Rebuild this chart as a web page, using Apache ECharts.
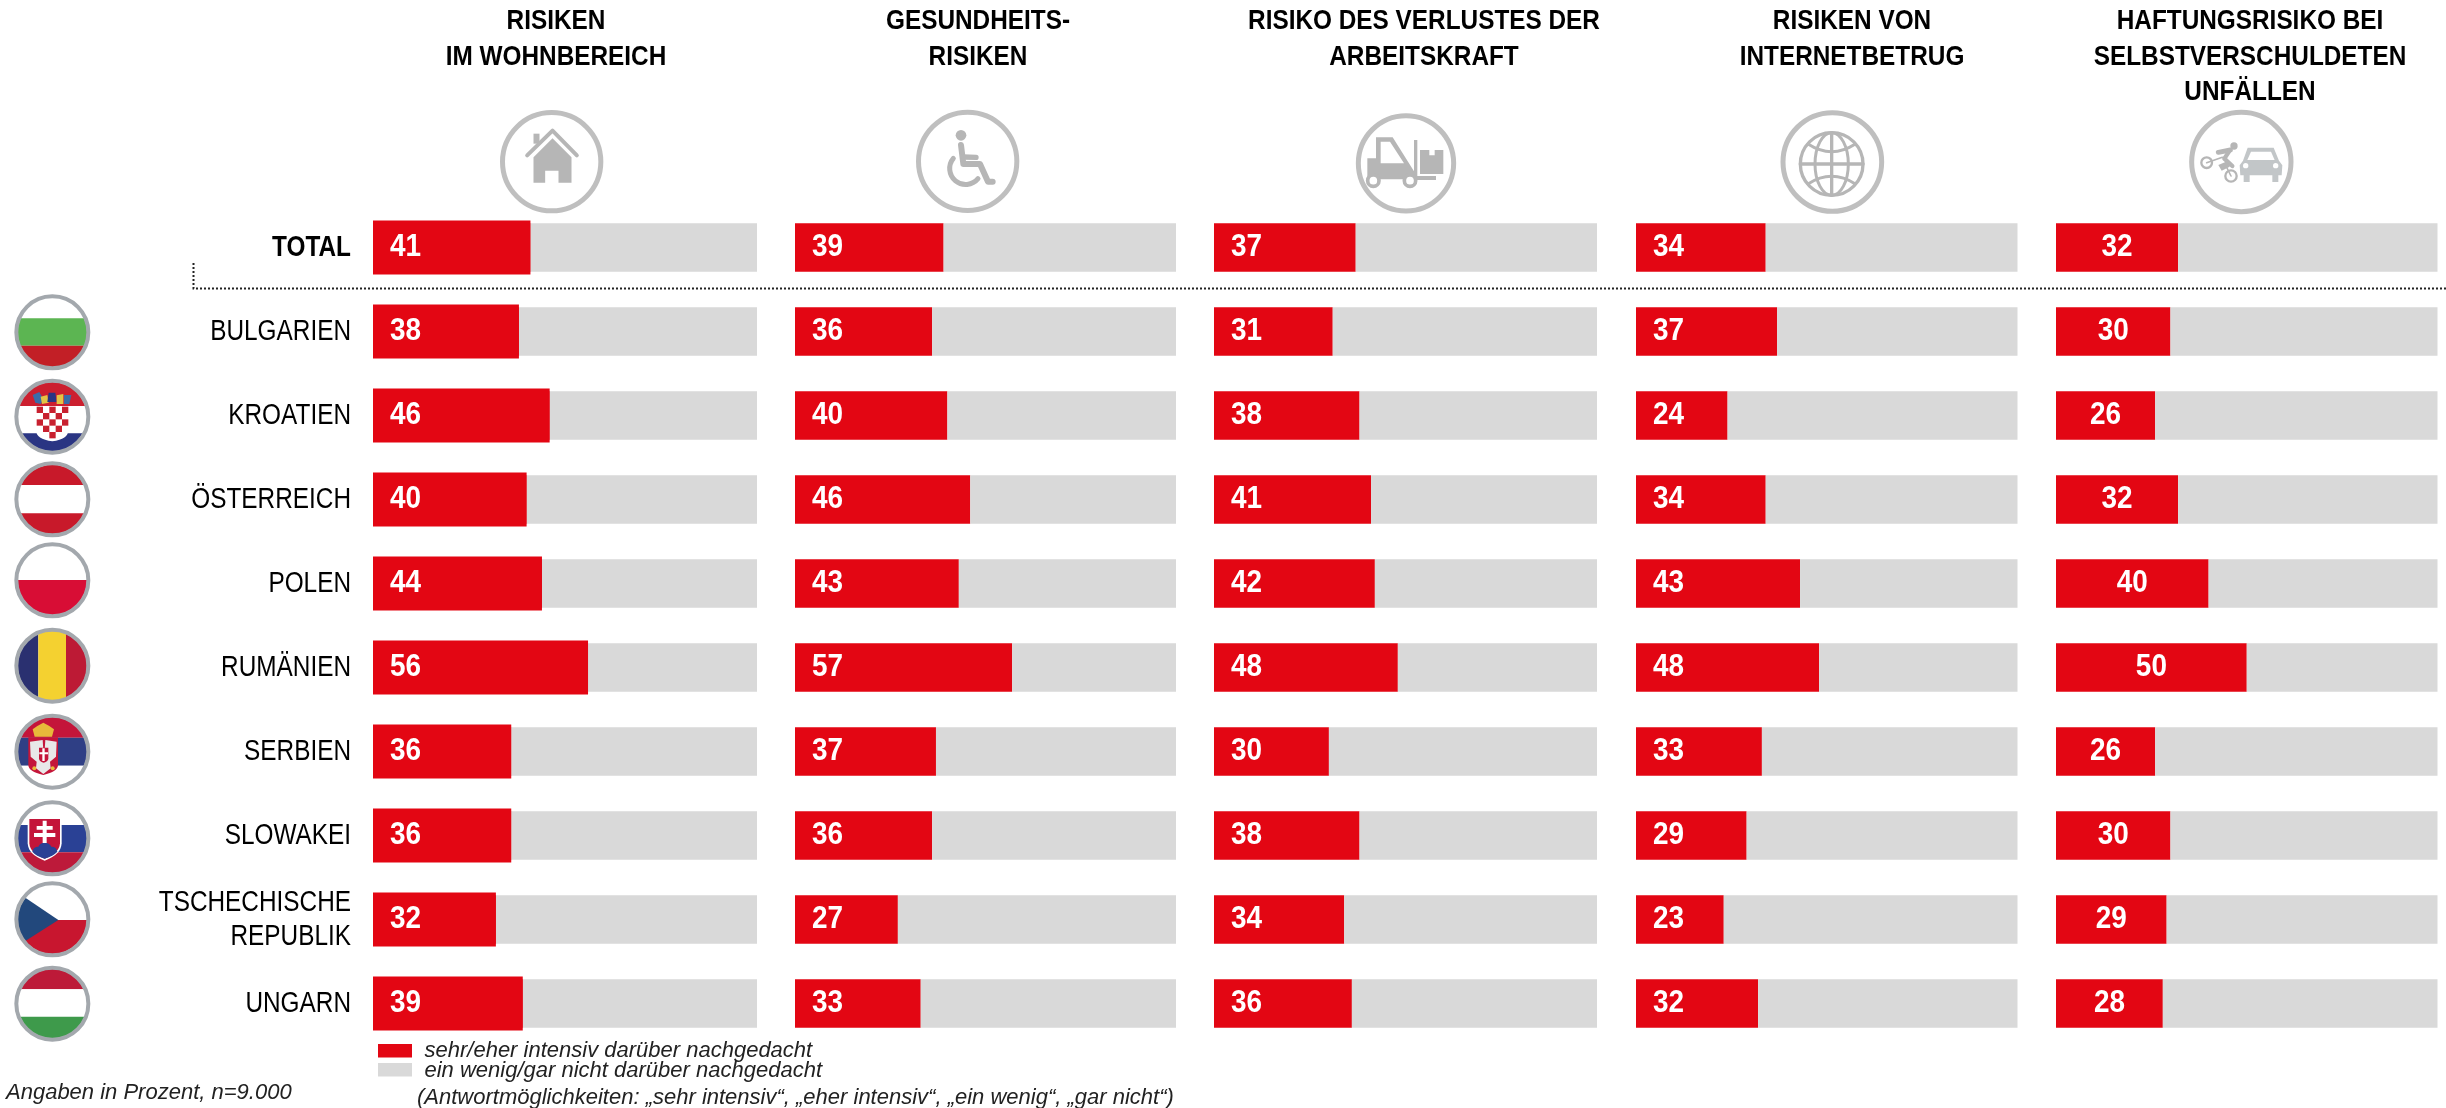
<!DOCTYPE html>
<html>
<head>
<meta charset="utf-8">
<title>Risiken</title>
<style>
  html, body { margin: 0; padding: 0; background: #fff; }
  #chart { width: 2446px; height: 1108px; }
</style>
<script src="https://cdn.jsdelivr.net/npm/echarts@6/dist/echarts.min.js"></script>
</head>
<body>
<div id="chart"></div>
<script>
const countries = ['TOTAL', 'BULGARIEN', 'KROATIEN', 'ÖSTERREICH', 'POLEN', 'RUMÄNIEN', 'SERBIEN', 'SLOWAKEI', 'TSCHECHISCHE\nREPUBLIK', 'UNGARN']

const headers = [
  'RISIKEN\nIM WOHNBEREICH',
  'GESUNDHEITS-\nRISIKEN',
  'RISIKO DES VERLUSTES DER\nARBEITSKRAFT',
  'RISIKEN VON\nINTERNETBETRUG',
  'HAFTUNGSRISIKO BEI\nSELBSTVERSCHULDETEN\nUNFÄLLEN'
]

// sehr/eher intensiv
const wohnbereich = [41, 38, 46, 40, 44, 56, 36, 36, 32, 39]
const gesundheit = [39, 36, 40, 46, 43, 57, 37, 36, 27, 33]
const arbeitskraft = [37, 31, 38, 41, 42, 48, 30, 38, 34, 36]
const internet = [34, 37, 24, 34, 43, 48, 33, 29, 23, 32]
const haftung = [32, 30, 26, 32, 40, 50, 26, 30, 29, 28]

// ein wenig/gar nicht
const wohnbereichRest = [59, 62, 54, 60, 56, 44, 64, 64, 68, 61]
const gesundheitRest = [61, 64, 60, 54, 57, 43, 63, 64, 73, 67]
const arbeitskraftRest = [63, 69, 62, 59, 58, 52, 70, 62, 66, 64]
const internetRest = [66, 63, 76, 66, 57, 52, 67, 71, 77, 68]
const haftungRest = [68, 70, 74, 68, 60, 50, 74, 70, 71, 72]

const legendHigh = 'sehr/eher intensiv darüber nachgedacht'
const legendLow = 'ein wenig/gar nicht darüber nachgedacht'
const noteLeft = 'Angaben in Prozent, n=9.000'
const noteRight = '(Antwortmöglichkeiten: „sehr intensiv“, „eher intensiv“, „ein wenig“, „gar nicht“)'

const RED = '#e30613'
const GREY = '#d9d9d9'
// no narrow font is installed, the squeezed look comes from scaleX on the text
const SANS = '"Liberation Sans", Arial, sans-serif'

const highValues = [wohnbereich, gesundheit, arbeitskraft, internet, haftung]
const lowValues = [wohnbereichRest, gesundheitRest, arbeitskraftRest, internetRest, haftungRest]

// column layout
const colLeft = [373, 795, 1214, 1636, 2056]
const colWidth = [384, 381, 383, 381.5, 381.5]
const headerX = [556, 978, 1424, 1852, 2250]

const grid = []
const xAxis = []
const yAxis = []
const series = []

function hiddenCategory(gridIndex) {
  return { gridIndex, type: 'category', inverse: true, data: countries, show: false }
}

colLeft.forEach((left, i) => {
  grid.push({ left: left, width: colWidth[i], top: 205.5, height: 840, containLabel: false })
  xAxis.push({ gridIndex: i, type: 'value', min: 0, max: 100, show: false })
  yAxis.push(hiddenCategory(i))
  series.push({
    name: legendHigh,
    type: 'bar',
    stack: 'col' + i,
    xAxisIndex: i,
    yAxisIndex: i,
    barWidth: 48.5,
    itemStyle: { color: RED },
    data: highValues[i]
  })
  series.push({
    name: legendLow,
    type: 'bar',
    stack: 'col' + i,
    xAxisIndex: i,
    yAxisIndex: i,
    barWidth: 48.5,
    itemStyle: { color: GREY },
    data: lowValues[i]
  })
  // value labels, left in the bar, centred in the last column
  series.push({
    type: 'custom',
    xAxisIndex: i,
    yAxisIndex: i,
    z: 5,
    silent: true,
    encode: { x: 0, y: 1 },
    data: highValues[i].map((v, r) => [v, r]),
    renderItem: (params, api) => {
      const v = api.value(0)
      const centred = i === 4
      const p = api.coord([centred ? v / 2 : 0, api.value(1)])
      return {
        type: 'text',
        x: centred ? p[0] : p[0] + 17,
        y: p[1],
        scaleX: 0.9,
        style: {
          text: String(v),
          align: centred ? 'center' : 'left',
          verticalAlign: 'middle',
          fill: '#fff',
          font: 'bold 31px ' + SANS
        }
      }
    }
  })
})

// first column: the red bars stand a little taller than the grey ones
yAxis.push(hiddenCategory(0))
series.push({
  name: legendHigh,
  type: 'bar',
  xAxisIndex: 0,
  yAxisIndex: yAxis.length - 1,
  barWidth: 54,
  z: 3,
  itemStyle: { color: RED },
  data: wohnbereich
})

// country names left of the first column
series.push({
  type: 'custom',
  xAxisIndex: 0,
  yAxisIndex: 0,
  z: 5,
  silent: true,
  encode: { x: 0, y: 1 },
  data: countries.map((c, r) => [0, r]),
  renderItem: (params, api) => {
    const r = api.value(1)
    const p = api.coord([0, r])
    return {
      type: 'text',
      x: p[0] - 22,
      y: p[1],
      scaleX: 0.84,
      style: {
        text: countries[r],
        align: 'right',
        verticalAlign: 'middle',
        fill: '#000',
        lineHeight: 34,
        font: (r === 0 ? 'bold ' : '') + '29px ' + SANS
      }
    }
  }
})

// ---- icons, drawn in 3x crop coordinates and scaled down ----
const ICON = '#b6b6b6'
const RING = '#bfbfbf'

// the graphic component has no plain path type, so each path gets its own shape class
let shapeCount = 0
function pathType(d) {
  const name = 'iconPath' + shapeCount++
  echarts.graphic.registerShape(name, echarts.graphic.extendPath(d))
  return name
}

function ring(cx, cy, r) {
  return { type: 'circle', shape: { cx, cy, r }, style: { fill: 'none', stroke: RING, lineWidth: 15 } }
}
function fillPath(d, color) {
  return { type: pathType(d), style: { fill: color || ICON } }
}
function linePath(d, w, color) {
  return { type: pathType(d), style: { fill: 'none', stroke: color || ICON, lineWidth: w, lineCap: 'round', lineJoin: 'round' } }
}
function dot(cx, cy, r, color) {
  return { type: 'circle', shape: { cx, cy, r }, style: { fill: color || ICON } }
}
function hoop(cx, cy, r, w, color) {
  return { type: 'circle', shape: { cx, cy, r }, style: { fill: '#fff', stroke: color || ICON, lineWidth: w } }
}
function small(x, y, children) {
  return { type: 'group', x, y, scaleX: 1 / 3, scaleY: 1 / 3, children }
}

const icons = [
  small(486.5, 100, [
    ring(195.5, 185, 147.5),
    fillPath('M141 101 L159 101 L159 131 L141 131 Z'),
    linePath('M122 166 L198 92 L271 166', 12),
    fillPath('M198 115 L255 172 L255 248 L216 248 L216 212 L176 212 L176 248 L141 248 L141 172 Z')
  ]),
  small(900, 100, [
    ring(203, 184, 147.5),
    dot(183, 106, 16),
    linePath('M183 135 L190 192 L240 192 L264 245 L278 245', 18),
    linePath('M190 171 L228 172', 16),
    linePath('M160 175 A44 44 0 1 0 234 236', 15)
  ]),
  small(1340, 100, [
    ring(198, 190, 143),
    fillPath('M82 175 L108 175 L108 112 L158 112 L222 214 L225 238 L82 238 Z M122 125 L122 190 L192 190 L150 125 Z'),
    fillPath('M222 120 L232 120 L232 228 L288 228 L288 240 L222 240 Z'),
    fillPath('M240 150 L268 150 L268 166 L284 166 L284 150 L310 150 L310 222 L240 222 Z'),
    hoop(100, 242, 17, 11),
    hoop(210, 242, 17, 11)
  ]),
  small(1770, 100, [
    ring(187, 186, 148),
    { type: 'circle', shape: { cx: 185, cy: 192, r: 94 }, style: { fill: 'none', stroke: ICON, lineWidth: 10 } },
    { type: 'ellipse', shape: { cx: 185, cy: 192, rx: 50, ry: 94 }, style: { fill: 'none', stroke: ICON, lineWidth: 9 } },
    linePath('M185 98 L185 286 M91 192 L279 192', 10),
    linePath('M114 132 Q185 178 256 132 M114 252 Q185 206 256 252', 9)
  ]),
  small(2175, 100, [
    ring(199, 186, 149),
    hoop(95, 188, 16, 7),
    hoop(168, 228, 17, 7),
    linePath('M95 188 L142 172 M168 228 L150 192', 5),
    dot(177, 138, 11),
    linePath('M130 157 L166 150', 15),
    linePath('M162 155 L148 176 L172 198', 13),
    fillPath('M130 195 L160 182 L164 200 L140 212 Z'),
    fillPath('M218 143 L296 143 L312 182 L322 196 L320 226 L310 226 L310 246 L292 246 L292 226 L224 226 L224 246 L206 246 L206 226 L196 226 L194 196 L204 182 Z', '#c2c6c8'),
    fillPath('M228 155 L288 155 L299 180 L217 180 Z', '#fff'),
    dot(212, 197, 8, '#fff'),
    dot(302, 197, 8, '#fff')
  ])
]

// ---- flags, drawn in 3x crop coordinates ----
const FLAG_X = 157
const FLAG_R = 104

function hband(cy, y0, y1, color) {
  const a = Math.sqrt(Math.max(0, FLAG_R * FLAG_R - (y0 - cy) * (y0 - cy)))
  const b = Math.sqrt(Math.max(0, FLAG_R * FLAG_R - (y1 - cy) * (y1 - cy)))
  const r = FLAG_R
  return fillPath(`M${FLAG_X - a} ${y0} L${FLAG_X + a} ${y0} A${r} ${r} 0 0 1 ${FLAG_X + b} ${y1} L${FLAG_X - b} ${y1} A${r} ${r} 0 0 1 ${FLAG_X - a} ${y0} Z`, color)
}
function vband(cy, x0, x1, color) {
  const a = Math.sqrt(Math.max(0, FLAG_R * FLAG_R - (x0 - FLAG_X) * (x0 - FLAG_X)))
  const b = Math.sqrt(Math.max(0, FLAG_R * FLAG_R - (x1 - FLAG_X) * (x1 - FLAG_X)))
  const r = FLAG_R
  return fillPath(`M${x0} ${cy - a} A${r} ${r} 0 0 1 ${x1} ${cy - b} L${x1} ${cy + b} A${r} ${r} 0 0 1 ${x0} ${cy + a} Z`, color)
}
function flagRing(cy) {
  return { type: 'circle', shape: { cx: FLAG_X, cy, r: 108 }, style: { fill: 'none', stroke: '#a3a8ad', lineWidth: 12 } }
}
function rectPath(x, y, w, h, color) {
  return fillPath(`M${x} ${y} h${w} v${h} h${-w} Z`, color)
}
function stripes(cy, cuts, colors) {
  return colors.map((c, i) => hband(cy, cuts[i], cuts[i + 1], c))
}

// croatian shield squares
const hrSquares = []
for (let row = 0; row < 5; row++) {
  for (let c = 0; c < 5; c++) {
    if ((row + c) % 2 === 0 && (row < 4 || c === 2)) {
      hrSquares.push(rectPath(110 + c * 19, 380 + row * 19, 19, 19, '#c8202f'))
    }
  }
}

const flags = [
  small(0, 280, [
    ...stripes(157, [53, 115, 197, 261], ['#ffffff', '#5cb552', '#c21f26']),
    flagRing(157),
    ...stripes(410, [306, 378, 460, 514], ['#cc1f2f', '#ffffff', '#2a3583']),
    fillPath('M108 378 L205 378 L205 450 Q205 478 157 484 Q108 478 108 450 Z', '#fff'),
    ...hrSquares,
    fillPath('M98 345 L118 336 L130 358 L122 372 L106 368 Z', '#3a6ca8'),
    fillPath('M122 350 L142 345 L146 368 L126 372 Z', '#e4c445'),
    fillPath('M146 338 L166 338 L170 366 L142 366 Z', '#2a3583'),
    fillPath('M170 346 L190 342 L190 372 L170 372 Z', '#e4c445'),
    fillPath('M192 345 L214 345 L208 372 L192 372 Z', '#3a6ca8'),
    flagRing(410),
    ...stripes(658, [554, 615, 700, 762], ['#c8192a', '#ffffff', '#c8192a']),
    flagRing(658)
  ]),
  small(0, 530, [
    ...stripes(151, [47, 150, 255], ['#ffffff', '#d80d35']),
    flagRing(151)
  ]),
  small(0, 620, [
    vband(137, 53.5, 115, '#2a3070'),
    vband(137, 115, 198, '#f4d130'),
    vband(137, 198, 260.5, '#bd1a35'),
    flagRing(137)
  ]),
  small(0, 700, [
    // serbien
    ...stripes(155, [51, 113, 197, 259], ['#c4153a', '#2f3f85', '#ffffff']),
    fillPath('M85 112 L174 112 L174 195 Q174 215 130 225 Q85 215 85 195 Z', '#c4153a'),
    fillPath('M90 125 L128 120 L130 150 L134 150 L136 120 L170 125 L168 170 L150 185 L152 205 L130 222 L108 205 L110 185 L92 170 Z', '#e8e8e8'),
    fillPath('M117 143 L145 143 L145 175 Q145 185 131 188 Q117 185 117 175 Z', '#c4153a'),
    fillPath('M127 145 h7 v12 h10 v6 h-10 v20 h-7 v-20 h-9 v-6 h9 Z', '#fff'),
    dot(103, 205, 6, '#e8b93a'),
    dot(158, 205, 6, '#e8b93a'),
    fillPath('M98 88 L112 78 L130 68 L148 78 L162 88 L156 110 L104 110 Z', '#e8b93a'),
    flagRing(155),
    // slowakei
    ...stripes(415, [311, 375, 457, 519], ['#ffffff', '#2a4195', '#bd1a3a']),
    fillPath('M83 353 L185 353 L185 430 Q183 465 134 482 Q85 465 83 430 Z', '#fff'),
    fillPath('M88 357 L180 357 L180 430 Q178 460 134 476 Q90 460 88 430 Z', '#c4153a'),
    fillPath('M97 455 Q100 440 115 440 Q120 428 134 428 Q148 428 154 440 Q170 440 172 455 Q160 468 134 476 Q108 468 97 455 Z', '#2a4195'),
    fillPath('M128 362 h12 v16 h18 v11 h-18 v10 h26 v12 h-26 v18 h-12 v-18 h-26 v-12 h26 v-10 h-18 v-11 h18 Z', '#fff'),
    flagRing(415),
    // tschechien
    ...stripes(658, [554, 660, 762], ['#ffffff', '#c8162f']),
    fillPath('M76 593 A104 104 0 0 0 76 723 L175 660 Z', '#22487c'),
    flagRing(658),
    // ungarn
    ...stripes(911, [807, 868, 950, 1015], ['#bd1a38', '#ffffff', '#3e9a4b']),
    flagRing(911)
  ])
]

function headerText(text, i) {
  return {
    type: 'text',
    x: headerX[i],
    y: 4,
    scaleX: 0.87,
    style: {
      text,
      align: 'center',
      verticalAlign: 'top',
      fill: '#000',
      font: 'bold 28px ' + SANS,
      lineHeight: 35.5
    }
  }
}

function noteText(text, x, y) {
  return {
    type: 'text',
    x,
    y,
    style: {
      text,
      align: 'left',
      verticalAlign: 'middle',
      fill: '#222',
      font: 'italic 22px ' + SANS
    }
  }
}

const graphicElements = [
  ...headers.map(headerText),
  ...icons,
  ...flags,
  {
    type: 'polyline',
    shape: { points: [[193.5, 263], [193.5, 288.5], [2446, 288.5]] },
    style: { fill: 'none', stroke: '#222', lineWidth: 2, lineDash: [2, 2] }
  },
  noteText(legendHigh, 424.5, 1051),
  noteText(legendLow, 424.5, 1071),
  noteText(noteLeft, 6, 1093),
  noteText(noteRight, 417, 1098)
]

const chart = echarts.init(document.getElementById('chart'))
chart.setOption({
  animation: false,
  backgroundColor: '#fff',
  legend: {
    left: 378,
    top: 1044,
    orient: 'vertical',
    itemWidth: 34,
    itemHeight: 13.5,
    itemGap: 5.5,
    icon: 'rect',
    selectedMode: false,
    padding: 0,
    data: [legendHigh, legendLow],
    // the legend texts are placed with the notes, same italic font
    formatter: () => ''
  },
  grid,
  xAxis,
  yAxis,
  series,
  graphic: { elements: graphicElements }
})
</script>
</body>
</html>
